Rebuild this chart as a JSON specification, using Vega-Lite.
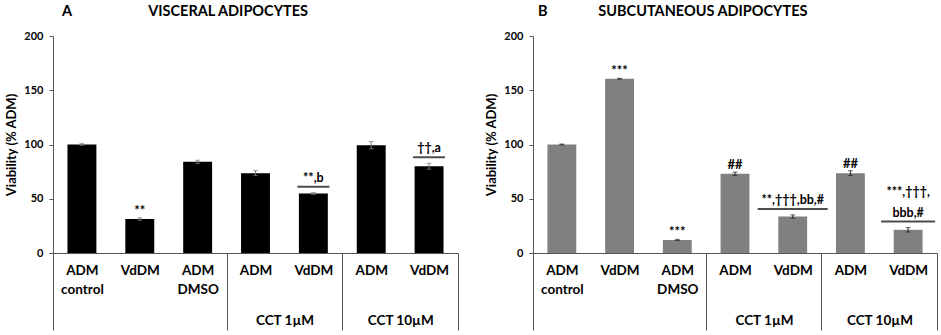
{
  "$schema": "https://vega.github.io/schema/vega-lite/v6.json",
  "padding": {"left": 5, "top": 3, "right": 0, "bottom": 0},
  "spacing": 26,
  "config": {"view": {"stroke": null}, "font": "Lato"},
  "datasets": {
    "a": [
      {"cond": "ADM control", "mean": 100, "lo": 99.2, "hi": 100.8},
      {"cond": "VdDM", "mean": 31.3, "lo": 30.1, "hi": 32.5, "sig": "**"},
      {"cond": "ADM DMSO", "mean": 84, "lo": 82.5, "hi": 85.5},
      {"cond": "ADM | CCT 1µM", "mean": 73.6, "lo": 71.3, "hi": 75.9},
      {"cond": "VdDM | CCT 1µM", "mean": 54.8, "lo": 54.0, "hi": 55.6, "bsig": "**,b"},
      {"cond": "ADM | CCT 10µM", "mean": 99.4, "lo": 96.0, "hi": 102.8},
      {"cond": "VdDM | CCT 10µM", "mean": 80, "lo": 77.2, "hi": 82.8, "bsig": "††,a"}
    ],
    "b": [
      {"cond": "ADM control", "mean": 100, "lo": 99.6, "hi": 100.4},
      {"cond": "VdDM", "mean": 160.6, "lo": 160.2, "hi": 161.0, "sig": "***"},
      {"cond": "ADM DMSO", "mean": 12, "lo": 11.4, "hi": 12.6, "sig": "***"},
      {"cond": "ADM | CCT 1µM", "mean": 73, "lo": 71.5, "hi": 74.5, "sig": "##"},
      {"cond": "VdDM | CCT 1µM", "mean": 33.6, "lo": 32.1, "hi": 35.1, "bsig": "**,†††,bb,#"},
      {"cond": "ADM | CCT 10µM", "mean": 73.6, "lo": 71.4, "hi": 75.8, "sig": "##"},
      {"cond": "VdDM | CCT 10µM", "mean": 21.4, "lo": 19.4, "hi": 23.4, "bsig": "bbb,#", "bsig_top": "***,†††,"}
    ]
  },
  "hconcat": [
    {
      "width": 405, "height": 217,
      "title": {"text": "A\u2003\u2003\u2003\u2003\u2003\u2003\u2003VISCERAL ADIPOCYTES", "anchor": "start", "frame": "group", "dx": 9, "fontSize": 14.5, "fontWeight": "bold", "offset": 11, "color": "#000"},
      "data": {"name": "a"},
      "resolve": {"axis": {"x": "independent"}},
      "layer": [
        {"mark": {"type": "bar", "color": "#000000"},
         "encoding": {
           "x": {"field": "cond", "type": "nominal", "sort": null, "scale": {"paddingInner": 0.5, "paddingOuter": 0.25},
                 "axis": {"orient": "bottom", "title": null, "domain": true, "domainColor": "#555", "ticks": true, "tickSize": 77, "tickOffset": 29, "tickColor": "#555", "tickWidth": 1,
                          "tickOpacity": {"condition": {"test": "datum.value == 'VdDM | CCT 10µM'", "value": 1}, "value": 0},
                          "labelAngle": 0, "labelFontSize": 13.5, "labelFontWeight": "bold", "labelColor": "#000", "labelPadding": -67, "labelOffset": -29, "labelLineHeight": 19,
                          "labelExpr": "indexof(datum.label, ' | ') > 0 ? slice(datum.label, 0, indexof(datum.label, ' | ')) : split(datum.label, ' ')"}},
           "y": {"field": "mean", "type": "quantitative", "scale": {"domain": [0, 200]},
                 "axis": {"title": "Viability (% ADM)", "titleFontSize": 13, "titleFontWeight": "bold", "titleColor": "#000", "titlePadding": 5, "values": [0, 50, 100, 150, 200], "grid": false, "domainColor": "#555", "tickColor": "#555", "tickSize": 4, "labelFontSize": 11, "labelFontWeight": "bold", "labelColor": "#000", "labelPadding": 6}}
         }},
        {"mark": {"type": "rule", "color": "#777"},
         "encoding": {
           "x": {"field": "cond", "type": "nominal", "sort": null, "scale": {"paddingInner": 0.5, "paddingOuter": 0.25},
                 "axis": {"orient": "bottom", "offset": 0, "title": null, "domain": false, "ticks": true, "tickSize": 77, "tickOffset": -29, "tickColor": "#555", "tickWidth": 1,
                          "tickOpacity": {"condition": {"test": "datum.value == 'ADM control' || datum.value == 'ADM | CCT 1µM' || datum.value == 'ADM | CCT 10µM'", "value": 1}, "value": 0},
                          "labelAngle": 0, "labelFontSize": 13.5, "labelFontWeight": "bold", "labelColor": "#000", "labelPadding": -17, "labelOffset": 58,
                          "labelExpr": "indexof(datum.label, 'ADM | ') == 0 ? slice(datum.label, 6) : ''"}},
           "y": {"field": "lo", "type": "quantitative"},
           "y2": {"field": "hi"}
         }},
        {"mark": {"type": "tick", "color": "#777", "size": 5, "thickness": 1},
         "encoding": {"x": {"field": "cond", "type": "nominal", "sort": null, "axis": null}, "y": {"field": "lo", "type": "quantitative"}}},
        {"mark": {"type": "tick", "color": "#777", "size": 5, "thickness": 1},
         "encoding": {"x": {"field": "cond", "type": "nominal", "sort": null, "axis": null}, "y": {"field": "hi", "type": "quantitative"}}},
        {"transform": [{"filter": "isValid(datum.sig)"}],
         "mark": {"type": "text", "baseline": "bottom", "dy": 0, "fontSize": 13, "fontWeight": "bold", "color": "#000"},
         "encoding": {"x": {"field": "cond", "type": "nominal", "sort": null, "axis": null}, "y": {"field": "hi", "type": "quantitative"}, "text": {"field": "sig"}}},
        {"transform": [{"filter": "isValid(datum.bsig)"}],
         "mark": {"type": "tick", "color": "#000", "size": 32, "thickness": 2, "yOffset": -6},
         "encoding": {"x": {"field": "cond", "type": "nominal", "sort": null, "axis": null}, "y": {"field": "hi", "type": "quantitative"}}},
        {"transform": [{"filter": "isValid(datum.bsig)"}],
         "mark": {"type": "text", "baseline": "bottom", "dy": -8, "fontSize": 12.5, "fontWeight": "bold", "color": "#000"},
         "encoding": {"x": {"field": "cond", "type": "nominal", "sort": null, "axis": null}, "y": {"field": "hi", "type": "quantitative"}, "text": {"field": "bsig"}}}
      ]
    },
    {
      "width": 404, "height": 217,
      "title": {"text": "B\u2003\u2003\u2003\u2003\u2002SUBCUTANEOUS ADIPOCYTES", "anchor": "start", "frame": "group", "dx": 5, "fontSize": 14.5, "fontWeight": "bold", "offset": 11, "color": "#000"},
      "data": {"name": "b"},
      "resolve": {"axis": {"x": "independent"}},
      "layer": [
        {"mark": {"type": "bar", "color": "#808080"},
         "encoding": {
           "x": {"field": "cond", "type": "nominal", "sort": null, "scale": {"paddingInner": 0.5, "paddingOuter": 0.25},
                 "axis": {"orient": "bottom", "title": null, "domain": true, "domainColor": "#555", "ticks": true, "tickSize": 77, "tickOffset": 29, "tickColor": "#555", "tickWidth": 1,
                          "tickOpacity": {"condition": {"test": "datum.value == 'VdDM | CCT 10µM'", "value": 1}, "value": 0},
                          "labelAngle": 0, "labelFontSize": 13.5, "labelFontWeight": "bold", "labelColor": "#000", "labelPadding": -67, "labelOffset": -29, "labelLineHeight": 19,
                          "labelExpr": "indexof(datum.label, ' | ') > 0 ? slice(datum.label, 0, indexof(datum.label, ' | ')) : split(datum.label, ' ')"}},
           "y": {"field": "mean", "type": "quantitative", "scale": {"domain": [0, 200]},
                 "axis": {"title": "Viability (% ADM)", "titleFontSize": 13, "titleFontWeight": "bold", "titleColor": "#000", "titlePadding": 5, "values": [0, 50, 100, 150, 200], "grid": false, "domainColor": "#555", "tickColor": "#555", "tickSize": 4, "labelFontSize": 11, "labelFontWeight": "bold", "labelColor": "#000", "labelPadding": 6}}
         }},
        {"mark": {"type": "rule", "color": "#222"},
         "encoding": {
           "x": {"field": "cond", "type": "nominal", "sort": null, "scale": {"paddingInner": 0.5, "paddingOuter": 0.25},
                 "axis": {"orient": "bottom", "offset": 0, "title": null, "domain": false, "ticks": true, "tickSize": 77, "tickOffset": -29, "tickColor": "#555", "tickWidth": 1,
                          "tickOpacity": {"condition": {"test": "datum.value == 'ADM control' || datum.value == 'ADM | CCT 1µM' || datum.value == 'ADM | CCT 10µM'", "value": 1}, "value": 0},
                          "labelAngle": 0, "labelFontSize": 13.5, "labelFontWeight": "bold", "labelColor": "#000", "labelPadding": -17, "labelOffset": 58,
                          "labelExpr": "indexof(datum.label, 'ADM | ') == 0 ? slice(datum.label, 6) : ''"}},
           "y": {"field": "lo", "type": "quantitative"},
           "y2": {"field": "hi"}
         }},
        {"mark": {"type": "tick", "color": "#222", "size": 5, "thickness": 1},
         "encoding": {"x": {"field": "cond", "type": "nominal", "sort": null, "axis": null}, "y": {"field": "lo", "type": "quantitative"}}},
        {"mark": {"type": "tick", "color": "#222", "size": 5, "thickness": 1},
         "encoding": {"x": {"field": "cond", "type": "nominal", "sort": null, "axis": null}, "y": {"field": "hi", "type": "quantitative"}}},
        {"transform": [{"filter": "isValid(datum.sig)"}],
         "mark": {"type": "text", "baseline": "bottom", "dy": 0, "fontSize": 13, "fontWeight": "bold", "color": "#000"},
         "encoding": {"x": {"field": "cond", "type": "nominal", "sort": null, "axis": null}, "y": {"field": "hi", "type": "quantitative"}, "text": {"field": "sig"}}},
        {"transform": [{"filter": "isValid(datum.bsig)"}],
         "mark": {"type": "tick", "color": "#000", "thickness": 2, "yOffset": -6},
         "encoding": {"x": {"field": "cond", "type": "nominal", "sort": null, "axis": null}, "y": {"field": "hi", "type": "quantitative"},
                      "size": {"condition": {"test": "datum.cond == 'VdDM | CCT 1µM'", "value": 70}, "value": 54}}},
        {"transform": [{"filter": "isValid(datum.bsig)"}],
         "mark": {"type": "text", "baseline": "bottom", "dy": -8, "fontSize": 12.5, "fontWeight": "bold", "color": "#000"},
         "encoding": {"x": {"field": "cond", "type": "nominal", "sort": null, "axis": null}, "y": {"field": "hi", "type": "quantitative"}, "text": {"field": "bsig"}}},
        {"transform": [{"filter": "isValid(datum.bsig_top)"}],
         "mark": {"type": "text", "baseline": "bottom", "dy": -29, "fontSize": 12.5, "fontWeight": "bold", "color": "#000"},
         "encoding": {"x": {"field": "cond", "type": "nominal", "sort": null, "axis": null}, "y": {"field": "hi", "type": "quantitative"}, "text": {"field": "bsig_top"}}}
      ]
    }
  ]
}
